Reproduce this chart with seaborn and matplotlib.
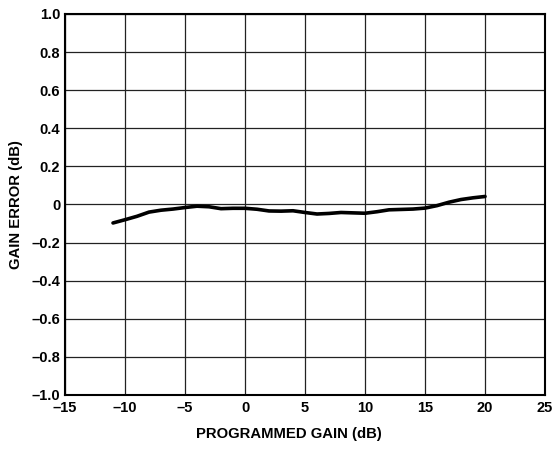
import matplotlib
matplotlib.use("Agg")
import matplotlib.pyplot as plt
import seaborn as sns
import pandas as pd

gain_db = [-11, -10, -9, -8, -7, -6, -5, -4, -3, -2, -1, 0, 1, 2, 3, 4, 5, 6, 7, 8,
           9, 10, 11, 12, 13, 14, 15, 16, 17, 18, 19, 20]
gain_error = [-0.097, -0.080, -0.062, -0.040, -0.030, -0.024, -0.016, -0.009, -0.012,
              -0.022, -0.020, -0.020, -0.025, -0.034, -0.035, -0.033, -0.042, -0.050,
              -0.047, -0.042, -0.044, -0.046, -0.038, -0.028, -0.026, -0.024, -0.019,
              -0.006, 0.012, 0.026, 0.035, 0.042]
x_ticks = [-15, -10, -5, 0, 5, 10, 15, 20, 25]
y_ticks = [-1.0, -0.8, -0.6, -0.4, -0.2, 0, 0.2, 0.4, 0.6, 0.8, 1.0]

sns.set_theme(style="white")
plt.rcParams['font.family'] = ['Liberation Sans', 'DejaVu Sans']
plt.rcParams['text.color'] = 'black'
plt.rcParams['axes.labelcolor'] = 'black'

df = pd.DataFrame({"gain": gain_db, "err": gain_error})

fig = plt.figure(figsize=(5.57, 4.51), dpi=100)
ax = fig.add_axes([0.1167, 0.1242, 0.8618, 0.8448])

ax.set_xlim(-15, 25)
ax.set_ylim(-1.0, 1.0)
ax.set_xticks(x_ticks)
ax.set_yticks(y_ticks)
ax.set_xticklabels([f"{t:d}".replace("-", "\u2013") for t in x_ticks],
                   fontsize=10.5, fontweight="bold")
ax.set_yticklabels([("0" if t == 0 else f"{t:.1f}").replace("-", "\u2013") for t in y_ticks],
                   fontsize=10.5, fontweight="bold")
ax.grid(True, color="#222222", linewidth=0.9)
ax.set_axisbelow(True)
for s in ax.spines.values():
    s.set_color("black")
    s.set_linewidth(1.5)
ax.tick_params(axis="y", length=0, pad=3.5, colors="black")
ax.tick_params(axis="x", length=0, pad=4.5, colors="black")

sns.lineplot(data=df, x="gain", y="err", ax=ax, color="black", linewidth=2.6)

ax.set_xlabel("PROGRAMMED GAIN (dB)", fontsize=10.7, fontweight="bold")
ax.xaxis.set_label_coords(0.467, -0.085)
ax.set_ylabel("GAIN ERROR (dB)", fontsize=10.7, fontweight="bold", labelpad=6)

fig.savefig("out.png", dpi=100)
